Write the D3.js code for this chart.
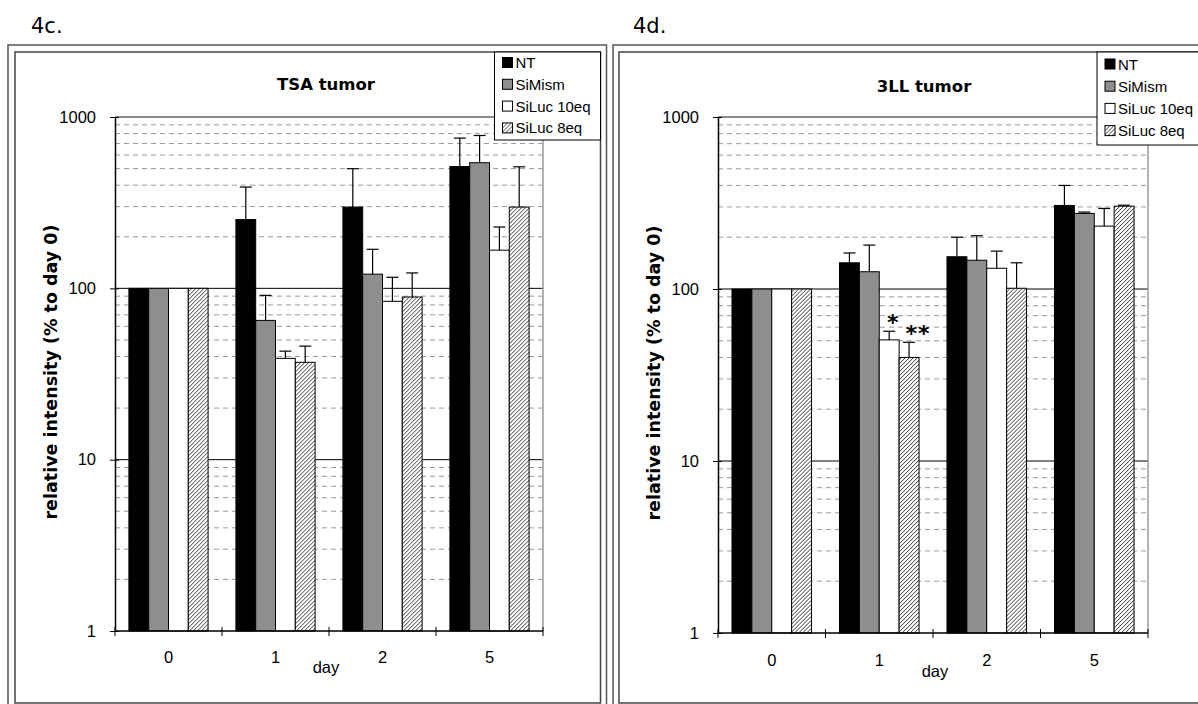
<!DOCTYPE html>
<html><head><meta charset="utf-8">
<script src="https://cdn.jsdelivr.net/npm/d3@7"></script>
<style>
html,body{margin:0;padding:0;background:#fff;}
svg{display:block;}
</style></head>
<body>
<svg id="chart" width="1198" height="704"></svg>
<script>
// ---------- data ----------
const days = ["0", "1", "2", "5"];
const seriesNames = ["NT", "SiMism", "SiLuc 10eq", "SiLuc 8eq"];
const yTickValues = [1, 10, 100, 1000];

// TSA tumor (4c.) bar values and upper error values
const tsaNT       = [100, 252, 298, 514];
const tsaSiMism   = [100, 65, 121, 541];
const tsaSiLuc10  = [100, 39, 84, 167];
const tsaSiLuc8   = [100, 37, 89, 298];
const tsaNTErr      = [100, 390, 499, 753];
const tsaSiMismErr  = [100, 91, 169, 780];
const tsaSiLuc10Err = [100, 43, 116, 228];
const tsaSiLuc8Err  = [100, 46, 123, 512];

// 3LL tumor (4d.)
const llNT       = [100, 142, 154, 306];
const llSiMism   = [100, 126, 147, 275];
const llSiLuc10  = [100, 50.6, 132, 232];
const llSiLuc8   = [100, 40, 101, 303];
const llNTErr      = [100, 162, 200, 400];
const llSiMismErr  = [100, 180, 204, 280];
const llSiLuc10Err = [100, 56.8, 166, 294];
const llSiLuc8Err  = [100, 49, 142, 307];

const llStars = [
  {day: "1", series: "SiLuc 10eq", text: "*"},
  {day: "1", series: "SiLuc 8eq", text: "**"}
];

// ---------- drawing ----------
const svg = d3.select("#chart");
const defs = svg.append("defs");
const pat = defs.append("pattern").attr("id", "hatch")
  .attr("patternUnits", "userSpaceOnUse").attr("width", 4).attr("height", 4);
pat.append("rect").attr("width", 4).attr("height", 4).attr("fill", "#fff");
pat.append("path").attr("d", "M-1,1 L1,-1 M0,4 L4,0 M3,5 L5,3")
  .attr("stroke", "#222").attr("stroke-width", 0.9);

const fills = {"NT": "#000", "SiMism": "#8e8e8e", "SiLuc 10eq": "#fff", "SiLuc 8eq": "url(#hatch)"};

function drawPanel(cfg) {
  const g = svg.append("g");
  // frames
  g.append("rect").attr("x", cfg.outer[0]).attr("y", cfg.outer[1])
    .attr("width", cfg.outer[2] - cfg.outer[0]).attr("height", cfg.outer[3] - cfg.outer[1])
    .attr("fill", "none").attr("stroke", "#555").attr("stroke-width", 1.5);
  g.append("rect").attr("x", cfg.inner[0]).attr("y", cfg.inner[1])
    .attr("width", cfg.inner[2] - cfg.inner[0]).attr("height", cfg.inner[3] - cfg.inner[1])
    .attr("fill", "none").attr("stroke", "#444").attr("stroke-width", 1.5);

  // panel label
  g.append("text").attr("x", cfg.labelX).attr("y", 33)
    .attr("font-family", "DejaVu Sans").attr("font-size", 21).attr("fill", "#000")
    .text(cfg.label);

  const x0 = d3.scaleBand().domain(days).range([cfg.left, cfg.right]).padding(0);
  const bw = x0.bandwidth();
  const x1 = d3.scaleBand().domain(seriesNames).range([bw * 0.13, bw * 0.87]).padding(0);
  const y = d3.scaleLog().domain([1, 1000]).range([cfg.bottom, cfg.top]);

  // minor gridlines
  const minor = [];
  [1, 10, 100].forEach(d => { for (let k = 2; k <= 9; k++) minor.push(d * k); });
  g.append("g").selectAll("line").data(minor).join("line")
    .attr("x1", cfg.left).attr("x2", cfg.right)
    .attr("y1", d => y(d)).attr("y2", d => y(d))
    .attr("stroke", "#9a9a9a").attr("stroke-width", 1).attr("stroke-dasharray", "5,4");
  // major gridlines
  g.append("g").selectAll("line").data([10, 100]).join("line")
    .attr("x1", cfg.left).attr("x2", cfg.right)
    .attr("y1", d => y(d)).attr("y2", d => y(d))
    .attr("stroke", "#000").attr("stroke-width", 1);
  g.append("line").attr("x1", cfg.left).attr("x2", cfg.right)
    .attr("y1", y(1000)).attr("y2", y(1000)).attr("stroke", "#666").attr("stroke-width", 1.5);
  g.append("line").attr("x1", cfg.right).attr("x2", cfg.right)
    .attr("y1", y(1000)).attr("y2", y(1)).attr("stroke", "#999").attr("stroke-width", 1.5);

  // bars
  const rows = [];
  days.forEach((d, i) => {
    seriesNames.forEach((s, j) => {
      rows.push({day: d, series: s, value: cfg.values[j][i], err: cfg.errs[j][i]});
    });
  });
  const bars = g.append("g").selectAll("g").data(rows).join("g")
    .attr("transform", d => `translate(${x0(d.day) + x1(d.series)},0)`);
  bars.append("rect")
    .attr("x", 0).attr("width", x1.bandwidth())
    .attr("y", d => y(d.value)).attr("height", d => y(1) - y(d.value))
    .attr("fill", d => fills[d.series]).attr("stroke", "#000").attr("stroke-width", 1);
  const eb = bars.filter(d => d.err > d.value);
  const cx = x1.bandwidth() / 2;
  eb.append("line").attr("x1", cx).attr("x2", cx)
    .attr("y1", d => y(d.value)).attr("y2", d => y(d.err))
    .attr("stroke", "#000").attr("stroke-width", 1.2);
  eb.append("line").attr("x1", cx - 6).attr("x2", cx + 6)
    .attr("y1", d => y(d.err)).attr("y2", d => y(d.err))
    .attr("stroke", "#000").attr("stroke-width", 1.2);

  // annotations
  if (cfg.stars) {
    g.append("g").selectAll("text").data(cfg.stars).join("text")
      .attr("x", d => x0(d.day) + x1(d.series) + cx + (d.text.length > 1 ? 9 : 4))
      .attr("y", d => {
        const r = rows.find(r => r.day === d.day && r.series === d.series);
        return y(r.err) - 1;
      })
      .attr("text-anchor", "middle").attr("font-family", "DejaVu Sans")
      .attr("font-weight", "bold").attr("font-size", 22).attr("letter-spacing", 1)
      .text(d => d.text);
  }

  // y axis
  const yAxis = d3.axisLeft(y).tickValues(yTickValues).tickFormat(d3.format("d"))
    .tickSizeInner(5).tickSizeOuter(0).tickPadding(14);
  const ya = g.append("g").attr("transform", `translate(${cfg.left},0)`).call(yAxis);
  ya.select(".domain").attr("stroke", "#000").attr("stroke-width", 1.5);
  ya.selectAll(".tick line").attr("x2", -5).attr("x1", 4).attr("stroke", "#000");
  ya.selectAll("text").attr("font-family", "Liberation Sans").attr("font-size", 16.5).attr("fill", "#000");

  // x axis
  const xa = g.append("g").attr("transform", `translate(0,${cfg.bottom})`);
  xa.append("line").attr("x1", cfg.left).attr("x2", cfg.right).attr("stroke", "#000").attr("stroke-width", 1.5);
  const bounds = days.map(d => x0(d)).concat([cfg.right]);
  xa.selectAll("line.tk").data(bounds).join("line").attr("class", "tk")
    .attr("x1", d => d).attr("x2", d => d).attr("y1", -4).attr("y2", 5)
    .attr("stroke", "#000").attr("stroke-width", 1);
  xa.selectAll("text.cat").data(days).join("text").attr("class", "cat")
    .attr("x", d => x0(d) + bw / 2).attr("y", cfg.catY - cfg.bottom)
    .attr("text-anchor", "middle").attr("font-family", "Liberation Sans").attr("font-size", 16.5)
    .text(d => d);

  // axis titles
  g.append("text").attr("x", cfg.dayX).attr("y", cfg.dayY)
    .attr("text-anchor", "middle").attr("font-family", "Liberation Sans").attr("font-size", 16.5)
    .text("day");
  g.append("text").attr("transform", `translate(${cfg.left - 58},${(cfg.top + cfg.bottom) / 2 - 2}) rotate(-90)`)
    .attr("text-anchor", "middle").attr("font-family", "DejaVu Sans").attr("font-weight", "bold")
    .attr("font-size", 17.5).text("relative intensity (% to day 0)");
  g.append("text").attr("x", cfg.titleX).attr("y", cfg.titleY)
    .attr("text-anchor", "middle").attr("font-family", "DejaVu Sans").attr("font-weight", "bold")
    .attr("font-size", 16.5).text(cfg.title);

  // legend
  const lg = g.append("g");
  lg.append("rect").attr("x", cfg.legX).attr("y", cfg.inner[1]).attr("width", cfg.legW).attr("height", cfg.legH)
    .attr("fill", "#fff").attr("stroke", "#000").attr("stroke-width", 1);
  const items = lg.selectAll("g").data(seriesNames).join("g")
    .attr("transform", (d, i) => `translate(${cfg.legX + 8},${cfg.legY0 + i * cfg.legDy})`);
  items.append("rect").attr("x", 0).attr("y", -5).attr("width", 10).attr("height", 10)
    .attr("fill", d => fills[d]).attr("stroke", "#000").attr("stroke-width", 1);
  items.append("text").attr("x", 13).attr("y", 5.5)
    .attr("font-family", "Liberation Sans").attr("font-size", 15).text(d => d);
}

drawPanel({
  label: "4c.", labelX: 31, title: "TSA tumor", titleX: 326, titleY: 90,
  outer: [8, 45, 606.5, 712], inner: [15, 52, 600.5, 703],
  left: 115, right: 543, top: 117, bottom: 631,
  catY: 663, dayX: 326, dayY: 673,
  values: [tsaNT, tsaSiMism, tsaSiLuc10, tsaSiLuc8],
  errs: [tsaNTErr, tsaSiMismErr, tsaSiLuc10Err, tsaSiLuc8Err],
  legX: 494.5, legW: 106, legH: 88, legY0: 62.5, legDy: 21.8
});

drawPanel({
  label: "4d.", labelX: 633, title: "3LL tumor", titleX: 924, titleY: 92,
  outer: [613, 45, 1212, 712], inner: [619, 52, 1205, 703],
  left: 718, right: 1148, top: 117, bottom: 633,
  catY: 666, dayX: 935, dayY: 677,
  values: [llNT, llSiMism, llSiLuc10, llSiLuc8],
  errs: [llNTErr, llSiMismErr, llSiLuc10Err, llSiLuc8Err],
  stars: llStars,
  legX: 1097, legW: 110, legH: 93, legY0: 64, legDy: 22.2
});
</script>
</body></html>
